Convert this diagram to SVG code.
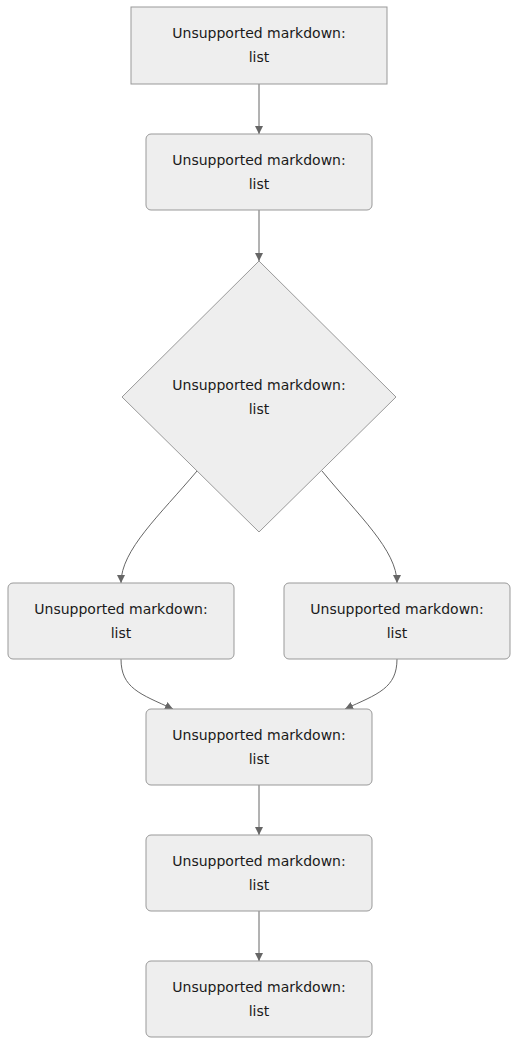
<svg xmlns="http://www.w3.org/2000/svg" width="526" height="1062" viewBox="0 0 526 1062">
<style>
.n{fill:#eeeeee;stroke:#999999;stroke-width:1}
.t{font-family:"DejaVu Sans","Liberation Sans",sans-serif;font-size:14px;fill:#1a1a1a;text-anchor:middle;dominant-baseline:central}
.e{fill:none;stroke:#666666;stroke-width:1}
</style>
<defs>
<marker id="arr" viewBox="0 0 10 10" refX="10" refY="5" markerWidth="8" markerHeight="8" markerUnits="userSpaceOnUse" orient="auto">
<path d="M0,0 L10,5 L0,10 z" fill="#666666"/>
</marker>
</defs>
<rect width="526" height="1062" fill="#ffffff"/>
<g id="connectors">
<path class="e" d="M259,84 L259,134" marker-end="url(#arr)"/>
<path class="e" d="M259,210 L259,261" marker-end="url(#arr)"/>
<path class="e" d="M197,471 C160,515 121,550 121,583" marker-end="url(#arr)"/>
<path class="e" d="M322,471 C358,515 397,550 397,583" marker-end="url(#arr)"/>
<path class="e" d="M121,659 C121,688 140,694 173,709" marker-end="url(#arr)"/>
<path class="e" d="M397,659 C397,688 378,694 345,709" marker-end="url(#arr)"/>
<path class="e" d="M259,785 L259,835" marker-end="url(#arr)"/>
<path class="e" d="M259,911 L259,961" marker-end="url(#arr)"/>
</g>
<g id="n1"><rect class="n" x="131" y="7" width="256" height="77"/><text class="t" x="259" y="33">Unsupported markdown:</text><text class="t" x="259" y="57">list</text></g>
<g id="n2"><rect class="n" x="146" y="134" width="226" height="76" rx="5"/><text class="t" x="259" y="160">Unsupported markdown:</text><text class="t" x="259" y="184">list</text></g>
<g id="n3"><polygon class="n" points="259,261 396,397 259,532 122,397"/><text class="t" x="259" y="385">Unsupported markdown:</text><text class="t" x="259" y="409">list</text></g>
<g id="n4"><rect class="n" x="8" y="583" width="226" height="76" rx="5"/><text class="t" x="121" y="609">Unsupported markdown:</text><text class="t" x="121" y="633">list</text></g>
<g id="n5"><rect class="n" x="284" y="583" width="226" height="76" rx="5"/><text class="t" x="397" y="609">Unsupported markdown:</text><text class="t" x="397" y="633">list</text></g>
<g id="n6"><rect class="n" x="146" y="709" width="226" height="76" rx="5"/><text class="t" x="259" y="735">Unsupported markdown:</text><text class="t" x="259" y="759">list</text></g>
<g id="n7"><rect class="n" x="146" y="835" width="226" height="76" rx="5"/><text class="t" x="259" y="861">Unsupported markdown:</text><text class="t" x="259" y="885">list</text></g>
<g id="n8"><rect class="n" x="146" y="961" width="226" height="76" rx="5"/><text class="t" x="259" y="987">Unsupported markdown:</text><text class="t" x="259" y="1011">list</text></g>
</svg>
